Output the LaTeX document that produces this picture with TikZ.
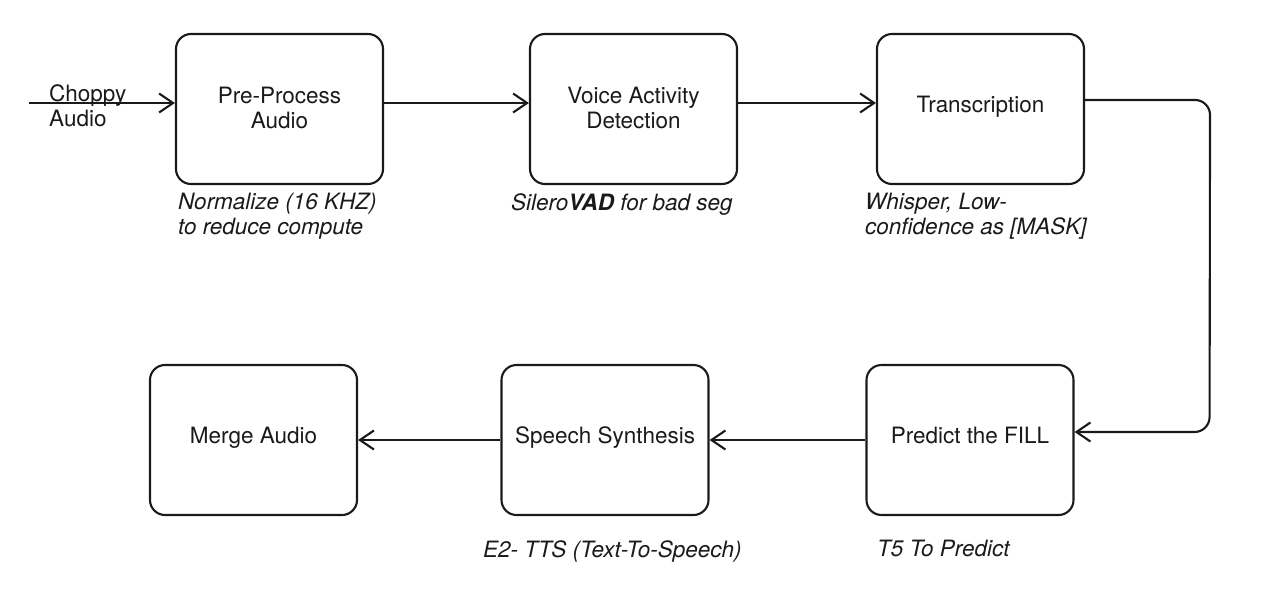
\documentclass[tikz,border=0pt]{standalone}
\usepackage{fontspec}
\setmainfont{TeX Gyre Heros}
\usetikzlibrary{arrows.meta,calc}
\definecolor{ink}{HTML}{1A1A1A}
\begin{document}
\begin{tikzpicture}[x=1pt,y=-1pt,
  stepbox/.style={draw=ink, line width=2.1pt, rounded corners=15pt,
    minimum width=207pt, minimum height=150pt, inner sep=0pt,
    align=center, text=ink, font=\fontsize{22.5}{25}\selectfont},
  oneline/.style={text depth=10pt},
  twoline/.style={text depth=3pt},
  note/.style={anchor=north west, inner sep=0pt, align=left, text=ink,
    font=\fontsize{22.5}{25.5}\selectfont\itshape},
  conn/.style={draw=ink, line width=2.1pt,
    -{Straight Barb[length=14pt,width=19pt,line width=2.1pt]}}
]
\useasboundingbox (0,0) rectangle (1265,597);
% top row
\node[stepbox,twoline] (pre)   at (279.5,109) {Pre-Process\\Audio};
\node[stepbox,twoline] (vad)   at (633.5,109) {Voice Activity\\Detection};
\node[stepbox,oneline] (trans) at (980.5,109) {Transcription};
% bottom row
\node[stepbox,oneline] (merge)  at (253.5,440) {Merge Audio};
\node[stepbox,oneline] (speech) at (605,440)   {Speech Synthesis};
\node[stepbox,oneline] (pred)   at (970,440)   {Predict the FILL};
% input
\coordinate (in) at (29,103);
\node[anchor=base west, inner sep=0pt, text=ink,
  font=\fontsize{22.5}{24}\selectfont] (inlabel) at (49,101) {Choppy};
\node[anchor=base west, inner sep=0pt, text=ink,
  font=\fontsize{22.5}{24}\selectfont] (inlabel2) at (49,126) {Audio};
% notes
\node[note] (n1) at (178,192.5) {Normalize (16 KHZ)\\to reduce compute};
\node[note] (n2) at (511,193.5) {Silero\textbf{VAD} for bad seg};
\node[note] (n3) at (865,192.5) {Whisper, Low-\\confidence as [MASK]};
\node[note] (n4) at (483,540.5) {E2- TTS (Text-To-Speech)};
\node[note] (n5) at (877,539.5) {T5 To Predict};
% connectors
\draw[conn] (in) -- (in -| pre.west);
\draw[conn] ($(pre.east)+(0,-6)$) -- ($(vad.west)+(0,-6)$);
\draw[conn] ($(vad.east)+(0,-6)$) -- ($(trans.west)+(0,-6)$);
\coordinate (c1) at ($(trans.east)+(125,-9)$);
\coordinate (c2) at ($(pred.east)+(135,-8)$);
\draw[conn, rounded corners=15pt] ($(trans.east)+(0,-9)$) -- (c1) -- (c2) -- ($(pred.east)+(0,-8)$);
\draw[conn] (pred.west) -- (speech.east);
\draw[conn] (speech.west) -- (merge.east);
\end{tikzpicture}
\end{document}
